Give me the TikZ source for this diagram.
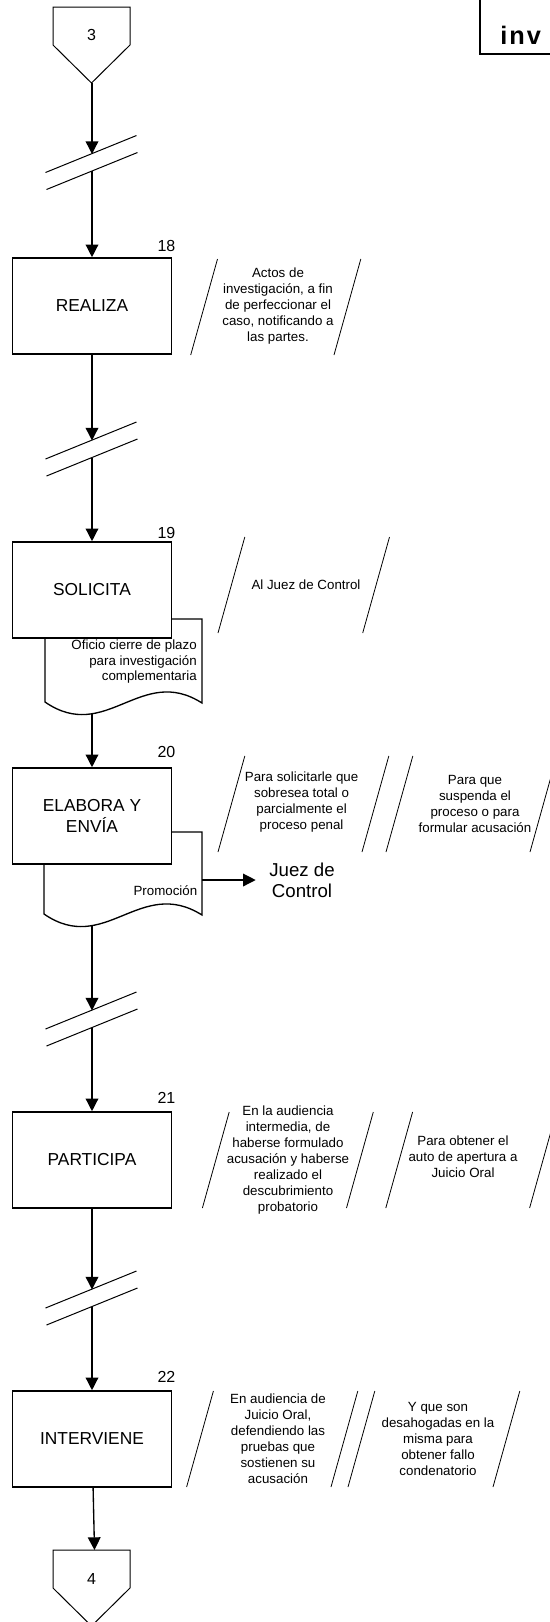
\documentclass[tikz,border=0pt]{standalone}
\usepackage{fontspec}
\setmainfont{Liberation Sans}
\usepackage{tikz}
\usetikzlibrary{arrows.meta,positioning,calc}

\begin{document}
\begin{tikzpicture}[x=0.75pt,y=-0.75pt,>={Triangle[length=9.5pt,width=9.5pt]},
   flow/.style={->,line width=1pt},
   actbox/.style={draw,line width=1.2pt,fill=white,minimum width=119.25pt,minimum height=72pt,align=center,font=\fontsize{13}{15.75}\selectfont},
   num/.style={inner sep=0pt,font=\fontsize{12}{14}\selectfont},
   note/.style={inner sep=0pt,align=center,font=\fontsize{10}{12}\selectfont},
   doctxt/.style={inner sep=0pt,align=right,font=\fontsize{10}{11.6}\selectfont},
   docshape/.style={draw,line width=1pt,fill=white},
   offp/.style={draw,line width=0.75pt},
   brk/.style={line width=0.75pt},
   slash/.style={line width=0.6pt}]
  \useasboundingbox (0,0) rectangle (550,1622);
  % header, cut at the page edge
  \draw[line width=1.5pt] (480,0) |- (550,54);
  \node[inner sep=0pt,anchor=west,font=\fontsize{19}{22}\selectfont\bfseries\addfontfeatures{LetterSpace=8}] (hd) at (500,35) {inv};
  % off-page connectors
  \draw[offp] (53,7) -- (130,7) -- (130,45) -- (91.5,83) -- (53,45) -- cycle;
  \node[num] (c3) at (91.5,35) {3};
  \coordinate (c3tip) at (92,83);
  \draw[offp] (53,1550) -- (130,1550) -- (130,1588) -- (91.5,1626) -- (53,1588) -- cycle;
  \node[num] (c4) at (91.5,1579) {4};
  \coordinate (c4top) at (94.5,1550);
  % breaks
  \foreach \nm/\y in {b1/154,b2/440.5,b3/1010.5,b4/1289.5}{
     \coordinate (\nm-in) at (92,\y);
     \coordinate (\nm-out) at (92,\y+17);
     \draw[brk] (45.5,\y+18.5) -- (136.5,\y-18.5);
     \draw[brk] (46.5,\y+35.5) -- (137.5,\y-1.5);}
  % documents
  \draw[docshape] (45,619) -- (202,619) -- (202,703) .. controls (141,664) and (106,744) .. (45,702) -- cycle;
  \coordinate (d19) at (92,714);
  \draw[docshape] (44,832) -- (202,832) -- (202,915) .. controls (140,876) and (105,956) .. (44,914) -- cycle;
  \coordinate (d20) at (92,926);
  \coordinate (p20) at (202,880);
  % activities
  \foreach \nm/\y/\txt in {a18/306/REALIZA,a19/590/SOLICITA,a20/816/{ELABORA Y\\ENVÍA},a21/1160/PARTICIPA,a22/1439/INTERVIENE}{
     \node[actbox] (\nm) at (92,\y) {\txt};}
  \foreach \k/\y in {18/246,19/533,20/752,21/1098,22/1377}{
     \node[num] (k\k) at (166.5,\y) {\k};}
  \node[doctxt,anchor=east] (o19) at (197,662) {Oficio cierre de plazo\\para investigación\\complementaria};
  \node[doctxt,anchor=east] (o20) at (197.5,891) {Promoción};
  \node[inner xsep=10pt,inner ysep=0pt,align=center,font=\fontsize{14}{15.75}\selectfont] (juez) at (302,880) {Juez de\\Control};
  % annotations
  \foreach \xb/\yb/\yt in {190.7/355/259,334/355/259,218/633/537,362.7/633/537,
     218/852/756,362/852/756,386/852/756,530/852/756,
     202.4/1208/1112,346.5/1208/1112,385.8/1208/1112,529.6/1208/1112,
     186.6/1487/1391,331/1487/1391,348/1487/1391,493/1487/1391}{
     \draw[slash] (\xb,\yb) -- (\xb+26.8,\yt);}
  \foreach \nm/\x/\y/\txt in {
     n18/278/306/{Actos de\\investigación, a fin\\de perfeccionar el\\caso, notificando a\\las partes.},
     n19/306/585/{Al Juez de Control},
     n20a/301.6/802/{Para solicitarle que\\sobresea total o\\parcialmente el\\proceso penal},
     n20b/475/804/{Para que\\suspenda el\\proceso o para\\formular acusación},
     n21a/288/1160/{En la audiencia\\intermedia, de\\haberse formulado\\acusación y haberse\\realizado el\\descubrimiento\\probatorio},
     n21b/463/1157/{Para obtener el\\auto de apertura a\\Juicio Oral},
     n22a/278/1439/{En audiencia de\\Juicio Oral,\\defendiendo las\\pruebas que\\sostienen su\\acusación},
     n22b/438/1439/{Y que son\\desahogadas en la\\misma para\\obtener fallo\\condenatorio}}{
     \node[note] (\nm) at (\x,\y) {\txt};}
  % flow
  \draw[flow] (c3tip) -- (b1-in);
  \draw[flow] (b1-out) -- (a18);
  \draw[flow] (a18) -- (b2-in);
  \draw[flow] (b2-out) -- (a19);
  \draw[flow] (d19) -- (a20);
  \draw[flow] (p20) -- (juez);
  \draw[flow] (d20) -- (b3-in);
  \draw[flow] (b3-out) -- (a21);
  \draw[flow] (a21) -- (b4-in);
  \draw[flow] (b4-out) -- (a22);
  \draw[flow] (a22) -- (c4top);
\end{tikzpicture}
\end{document}
